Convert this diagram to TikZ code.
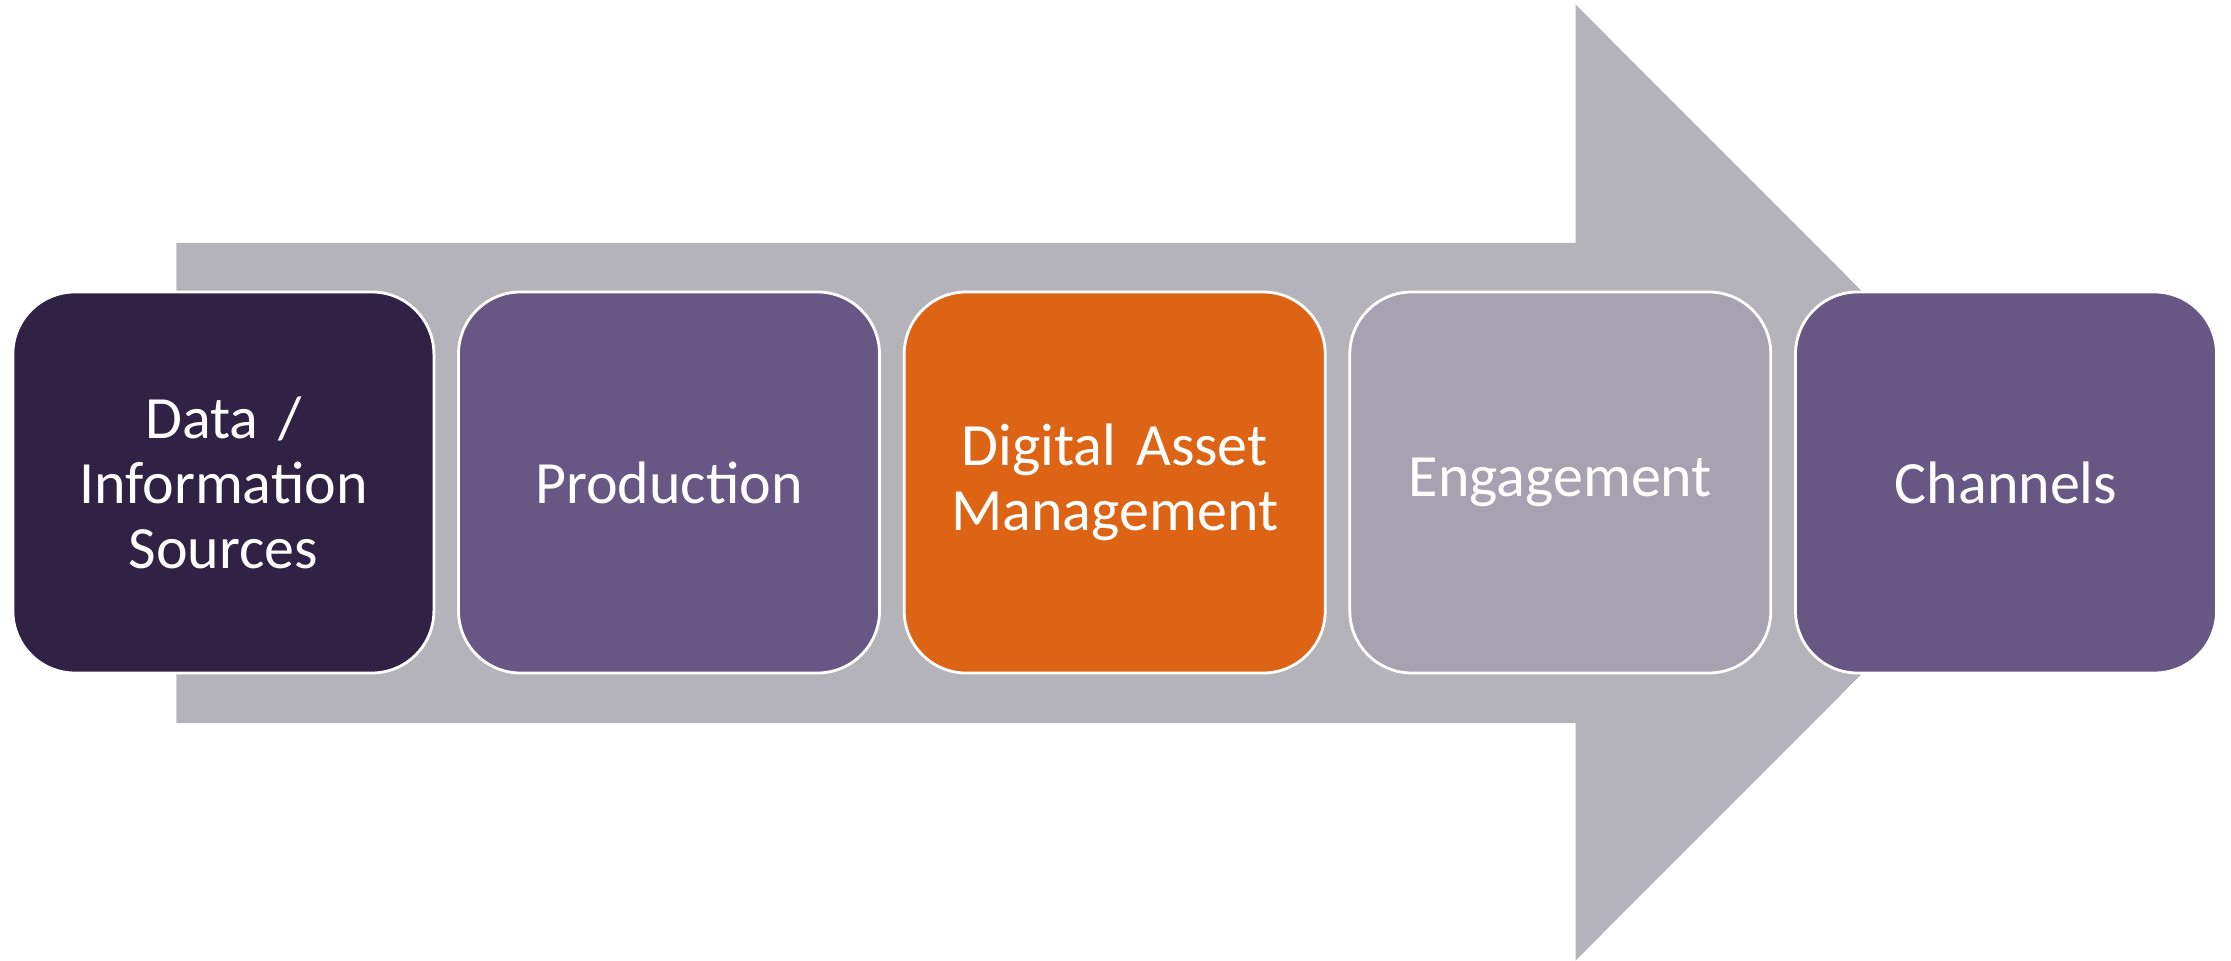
\documentclass[tikz,border=0pt]{standalone}
\usepackage{fontspec}
\setmainfont{Carlito}
\definecolor{arrowgray}{RGB}{181,179,186}
\definecolor{darkpurple}{RGB}{47,34,69}
\definecolor{midpurple}{RGB}{103,87,133}
\definecolor{dorange}{RGB}{221,100,21}
\definecolor{lightgray}{RGB}{166,162,178}
\begin{document}
\begin{tikzpicture}[x=0.5pt,y=-0.5pt,
  stage/.style={rectangle, rounded corners=31pt, draw=white, line width=1.4pt,
    minimum width=210.5pt, minimum height=190.5pt, inner sep=0pt,
    text width=195pt, align=center, text=white,
    font=\fontsize{30}{32.5}\selectfont}]
\useasboundingbox (0,0) rectangle (2231,961);
\fill[arrowgray] (176.4,243) -- (1575.5,243) -- (1575.5,4.5) -- (2053,482.5)
  -- (1575.5,960.5) -- (1575.5,723) -- (176.4,723) -- cycle;
\node[stage, fill=darkpurple] (s1) at (223.4,482.5) {Data /\\Information\\Sources};
\node[stage, fill=midpurple] (s2) at (669,482.5) {Production};
\node[stage, fill=dorange] (s3) at (1114.7,482.5) {Digital Asset\\Management};
\node[stage, fill=lightgray] (s4) at (1560.3,482.5) {Engagement};
\node[stage, fill=midpurple] (s5) at (2006,482.5) {Channels};
\end{tikzpicture}
\end{document}
